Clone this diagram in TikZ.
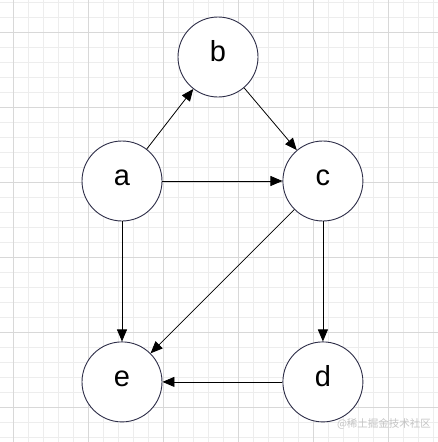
\documentclass[tikz,border=0pt]{standalone}
\usepackage{fontspec}
\setmainfont{Liberation Sans}
\newfontfamily\cjkfont{Noto Sans CJK SC}
\usetikzlibrary{arrows.meta,positioning}

\definecolor{gridminor}{HTML}{EDEDED}
\definecolor{gridmajor}{HTML}{D8D8D8}
\definecolor{ringcol}{HTML}{2E2E48}
\definecolor{markcol}{HTML}{C4C4C4}

\tikzset{
  vertex/.style={circle, draw=ringcol, fill=white, line width=0.9pt,
    minimum size=80pt, inner sep=0pt, text height=0.9em, text depth=0pt,
    font=\fontsize{29}{34}\selectfont},
  arc/.style={-{Triangle[length=12pt,width=10pt]}, line width=0.8pt, black}
}

\begin{document}
\begin{tikzpicture}[x=1pt,y=-1pt]
      \useasboundingbox (0,0) rectangle (438,442) ;
      \fill[white] (0,0) rectangle (438,442) ;

      % grid paper
      \foreach \gx in {13,28,...,433}
        \draw[gridminor, line width=0.7pt] (\gx,0) -- (\gx,442) ;
      \foreach \gy in {2,17,...,437}
        \draw[gridminor, line width=0.7pt] (0,\gy) -- (438,\gy) ;
      \foreach \gx in {13,88,...,388}
        \draw[gridmajor, line width=0.8pt] (\gx,0) -- (\gx,442) ;
      \foreach \gy in {32,107,...,407}
        \draw[gridmajor, line width=0.8pt] (0,\gy) -- (438,\gy) ;

      \node[vertex] (a) at (122,181) {a} ;
      \node[vertex] (b) at (218,57) {b} ;
      \node[vertex, right=120pt of a] (c) {c} ;
      \node[vertex, below=120pt of a] (e) {e} ;
      \node[vertex, below=120pt of c] (d) {d} ;

      \path[arc]
      (a) edge (b)
      (b) edge (c)
      (a) edge (c)
      (a) edge (e)
      (c) edge (e)
      (c) edge (d)
      (d) edge (e) ;

      \node[markcol, font=\cjkfont\fontsize{10.5}{12}\selectfont] (mark) at (384,424) {@稀土掘金技术社区} ;
\end{tikzpicture}
\end{document}
